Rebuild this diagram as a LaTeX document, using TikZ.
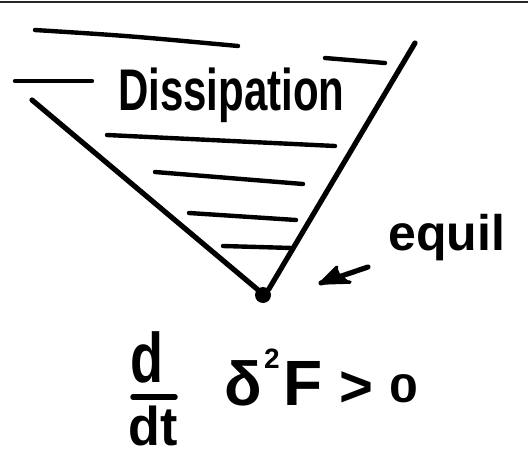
\documentclass[tikz,border=0pt]{standalone}
\usepackage{fontspec}
\setmainfont{Liberation Sans}
\begin{document}
\begin{tikzpicture}[x=1pt,y=-1pt,
  stroke/.style={line width=5.2pt,line cap=round},
  hatch/.style={line width=4.4pt,line cap=round},
  hand/.style={inner sep=0pt,anchor=base west,font=\bfseries},
  handc/.style={inner sep=0pt,anchor=base,font=\bfseries}]
\useasboundingbox (0,0) rectangle (528,455);
\fill[white] (0,0) rectangle (528,455);
% scan border at top
\draw[line width=1.5pt,black!85] (0,2) -- (528,2);
% V shape
\coordinate (vl) at (32,100);
\coordinate (vr) at (415,43);
\node[circle,fill=black,inner sep=0pt,minimum size=16pt] (eq) at (263,295) {};
\draw[stroke] (vl) -- (eq.north west);
\draw[stroke] (vr) -- (eq.north east);
% hatch lines
\coordinate (h1a) at (35,30);  \coordinate (h1b) at (238,46);
\coordinate (h2a) at (15,81);  \coordinate (h2b) at (92,81);
\coordinate (h3a) at (325,58); \coordinate (h3b) at (385,63);
\coordinate (h4a) at (107,135);\coordinate (h4b) at (335,146);
\coordinate (h5a) at (155,172);\coordinate (h5b) at (303,184);
\coordinate (h6a) at (189,213);\coordinate (h6b) at (296,220);
\coordinate (h7a) at (223,246);\coordinate (h7b) at (292,248);
\draw[hatch] (h1a) .. controls (130,36) .. (h1b);
\draw[hatch] (h2a) -- (h2b);
\draw[hatch] (h3a) -- (h3b);
\draw[hatch] (h4a) -- (h4b);
\draw[hatch] (h5a) -- (h5b);
\draw[hatch] (h6a) -- (h6b);
\draw[hatch] (h7a) -- (h7b);
% labels
\node[hand] (diss) at (118,110) {\fontsize{42}{46}\selectfont\scalebox{1}[1.4]{Dissipation}};
\node[hand] (equil) at (388,250) {\fontsize{50}{54}\selectfont equil};
% arrow to equilibrium point
\coordinate (atail) at (368,267);
\coordinate (atip) at (321,283);
\coordinate (ab1) at (337,267);
\coordinate (ab2) at (350,282);
\draw[stroke] (atail) -- (atip);
\fill (atip) -- (ab1) -- (340,274) -- (ab2) -- cycle;
\draw[line width=3.5pt,line cap=round,line join=round] (atip) -- (ab1) (atip) -- (ab2);
% formula
\node[handc] (dnum) at (147,382) {\fontsize{54}{58}\selectfont\scalebox{1}[1.3]{d}};
\coordinate (bar1) at (133,397); \coordinate (bar2) at (175,397);
\draw[line width=5.5pt,line cap=round] (bar1) -- (bar2);
\node[handc] (dden) at (153,445) {\fontsize{52}{56}\selectfont\scalebox{1}[1.05]{dt}};
\node[hand] (delta) at (224,405) {\fontsize{62}{66}\selectfont δ};
\node[hand] (two) at (264,368) {\fontsize{28}{32}\selectfont 2};
\node[hand] (F) at (283,405) {\fontsize{64}{68}\selectfont F};
\node[hand] (gt) at (339,406) {\fontsize{58}{62}\selectfont >};
\node[hand] (zero) at (389,402) {\fontsize{40}{44}\selectfont\scalebox{1.3}[1]{0}};
\end{tikzpicture}
\end{document}
